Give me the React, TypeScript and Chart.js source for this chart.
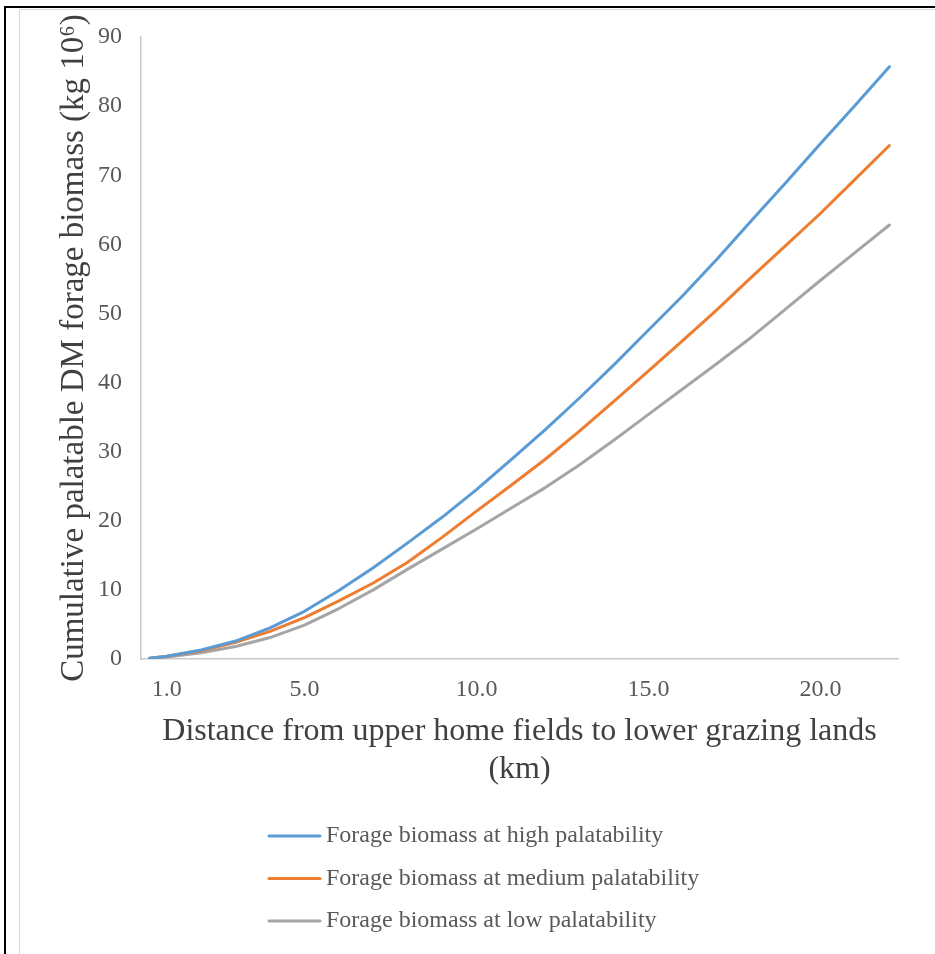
import React, { useEffect, useRef } from 'react';
import { Chart, registerables } from 'chart.js';

Chart.register(...registerables);

// Distance from upper home fields (km)
const distanceKm = [0.5, 1, 2, 3, 4, 5, 6, 7, 8, 9, 10, 11, 12, 13, 14, 15, 16, 17, 18, 19, 20, 21, 22];

// Cumulative palatable DM forage biomass (kg 10^6)
const highPalatability = [0.1, 0.4, 1.3, 2.6, 4.5, 6.9, 9.9, 13.2, 16.8, 20.5, 24.5, 28.8, 33.2, 37.8, 42.6, 47.6, 52.6, 57.9, 63.5, 69.0, 74.6, 80.1, 85.7];
const mediumPalatability = [0.1, 0.4, 1.2, 2.4, 4.0, 6.0, 8.4, 11.0, 14.0, 17.6, 21.4, 25.1, 28.9, 33.0, 37.3, 41.7, 46.1, 50.6, 55.3, 59.9, 64.5, 69.4, 74.3];
const lowPalatability = [0.05, 0.3, 0.9, 1.8, 3.1, 4.9, 7.3, 10.0, 13.0, 15.9, 18.8, 21.8, 24.8, 28.1, 31.7, 35.4, 39.1, 42.8, 46.6, 50.7, 54.8, 58.8, 62.8];

const seriesLabels = [
  'Forage biomass at high palatability',
  'Forage biomass at medium palatability',
  'Forage biomass at low palatability',
];
const seriesColors = ['#5B9BD5', '#ED7D31', '#A5A5A5'];

const xTickValues = [1, 5, 10, 15, 20];
const yTickStep = 10;
const yMax = 90;

const FONT = '"Liberation Serif", "Times New Roman", serif';

const stackedLegend = {
  id: 'stackedLegend',
  afterDraw(chart: any) {
    const ctx = chart.ctx as CanvasRenderingContext2D;
    const lineX0 = 249;
    const lineX1 = 300;
    const textX = 306;
    const y0 = chart.chartArea.bottom + 177;
    const gap = 42.5;
    chart.data.datasets.forEach((ds: any, i: number) => {
      const y = y0 + i * gap;
      ctx.save();
      ctx.strokeStyle = ds.borderColor;
      ctx.lineWidth = 3;
      ctx.lineCap = 'round';
      ctx.beginPath();
      ctx.moveTo(lineX0, y);
      ctx.lineTo(lineX1, y);
      ctx.stroke();
      ctx.fillStyle = '#595959';
      ctx.font = `24px ${FONT}`;
      ctx.textBaseline = 'middle';
      ctx.textAlign = 'left';
      ctx.fillText(ds.label, textX, y);
      ctx.restore();
    });
  },
};

export default function App() {
  const ref = useRef<HTMLCanvasElement>(null);

  useEffect(() => {
    const series = [highPalatability, mediumPalatability, lowPalatability];
    const chart = new Chart(ref.current as HTMLCanvasElement, {
      type: 'line',
      data: {
        datasets: series.map((vals, i) => ({
          label: seriesLabels[i],
          data: distanceKm.map((d, j) => ({ x: d, y: vals[j] })),
          borderColor: seriesColors[i],
          backgroundColor: seriesColors[i],
          borderWidth: 3,
          pointRadius: 0,
          tension: 0,
          fill: false,
          borderCapStyle: 'round',
          borderJoinStyle: 'round',
        })),
      },
      options: {
        responsive: false,
        animation: false,
        devicePixelRatio: 1,
        layout: { padding: { left: 0, top: 27, right: 37, bottom: 164.8 } },
        plugins: {
          legend: { display: false },
          tooltip: { enabled: false },
        },
        scales: {
          x: {
            type: 'linear',
            min: 0.25,
            max: 22.25,
            afterBuildTicks: (scale: any) => {
              scale.ticks = xTickValues.map((v) => ({ value: v }));
            },
            afterFit: (scale: any) => {
              scale.height = 130.2;
            },
            grid: { display: false, drawTicks: false },
            border: { display: true, color: '#c9c9c9', width: 1.5 },
            ticks: {
              autoSkip: false,
              maxRotation: 0,
              padding: 16,
              color: '#595959',
              font: { family: FONT, size: 24 },
              callback: (v: any) => Number(v).toFixed(1),
            },
            title: {
              display: true,
              text: ['Distance from upper home fields to lower grazing lands', '(km)'],
              color: '#404040',
              font: { family: FONT, size: 32 },
              padding: { top: 0, bottom: 0 },
            },
          },
          y: {
            min: 0,
            max: yMax,
            afterFit: (scale: any) => {
              scale.width = 121;
              scale.paddingTop = 0;
              scale.paddingBottom = 0;
            },
            grid: { display: false, drawTicks: false },
            border: { display: true, color: '#c9c9c9', width: 1.5 },
            ticks: {
              stepSize: yTickStep,
              padding: 19,
              color: '#595959',
              font: { family: FONT, size: 24 },
            },
            title: {
              display: true,
              text: 'Cumulative palatable DM forage biomass (kg 10\u2076)',
              color: '#404040',
              font: { family: FONT, size: 33 },
              padding: { top: 35, bottom: 0 },
            },
          },
        },
      },
      plugins: [stackedLegend],
    } as any);
    return () => chart.destroy();
  }, []);

  return (
    <div style={{ position: 'absolute', left: 0, top: 0, width: 935, height: 954, background: '#fff', overflow: 'hidden' }}>
      <div style={{ position: 'absolute', left: 4, top: 6, width: 931, height: 2, background: '#000' }} />
      <div style={{ position: 'absolute', left: 4, top: 6, width: 2, height: 948, background: '#000' }} />
      <div style={{ position: 'absolute', left: 19, top: 9, width: 940, height: 960, borderLeft: '1px solid #d9d9d9', borderTop: '1px solid #d9d9d9' }} />
      <canvas
        ref={ref}
        width={915}
        height={944}
        style={{ position: 'absolute', left: 20, top: 10, width: 915, height: 944 }}
      />
    </div>
  );
}
